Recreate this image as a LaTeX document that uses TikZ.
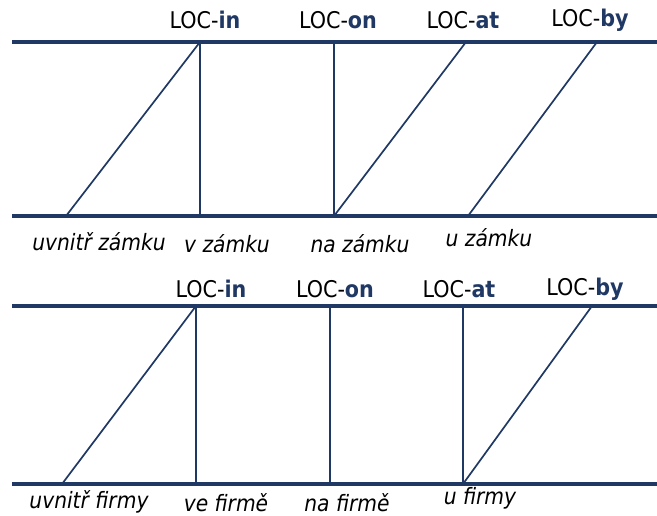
\documentclass[tikz,border=0pt]{standalone}
\usepackage{fontspec}
\setmainfont{DejaVu Sans Condensed}
\begin{document}
\begin{tikzpicture}[x=1pt,y=-1pt,
  rail/.style={draw=navy,line width=3.4pt},
  link/.style={draw=navy,line width=1.7pt},
  loc/.style={font=\fontsize{23}{26}\selectfont,inner sep=0pt},
  form/.style={font=\fontsize{22.5}{26}\selectfont\itshape,inner sep=0pt}]
\definecolor{navy}{HTML}{203864}
\newcommand{\locl}[1]{LOC-\textbf{\textcolor{navy}{#1}}}
\useasboundingbox (0,0) rectangle (657,515);

% ---- upper panel: zámek ----
\coordinate (aTL) at (12,42);  \coordinate (aTR) at (657,42);
\coordinate (aBL) at (12,216); \coordinate (aBR) at (657,216);
\draw[rail] (aTL) -- (aTR);
\draw[rail] (aBL) -- (aBR);
\node[loc] (ain) at (205,20) {\locl{in}};
\node[loc] (aon) at (338,20) {\locl{on}};
\node[loc] (aat) at (463,20) {\locl{at}};
\node[loc] (aby) at (590,20) {\locl{by}};
\coordinate (a1t) at (200,42); \coordinate (a1b) at (66,216);
\coordinate (a2t) at (200,42); \coordinate (a2b) at (200,216);
\coordinate (a3t) at (334,42); \coordinate (a3b) at (334,216);
\coordinate (a4t) at (466,42); \coordinate (a4b) at (334,216);
\coordinate (a5t) at (597,42); \coordinate (a5b) at (468,216);
\draw[link] (a1b) -- (a1t);
\draw[link] (a2b) -- (a2t);
\draw[link] (a3b) -- (a3t);
\draw[link] (a4b) -- (a4t);
\draw[link] (a5b) -- (a5t);
\node[form] (af1) at (99,242) {uvnitř zámku};
\node[form] (af2) at (227,244) {v zámku};
\node[form] (af3) at (360,244) {na zámku};
\node[form] (af4) at (489,238) {u zámku};

% ---- lower panel: firma ----
\coordinate (bTL) at (12,306);  \coordinate (bTR) at (657,306);
\coordinate (bBL) at (12,484);  \coordinate (bBR) at (657,484);
\draw[rail] (bTL) -- (bTR);
\draw[rail] (bBL) -- (bBR);
\node[loc] (bin) at (211,289) {\locl{in}};
\node[loc] (bon) at (335,289) {\locl{on}};
\node[loc] (bat) at (459,289) {\locl{at}};
\node[loc] (bby) at (585,289) {\locl{by}};
\coordinate (b1t) at (196,306); \coordinate (b1b) at (62,484);
\coordinate (b2t) at (196,306); \coordinate (b2b) at (196,484);
\coordinate (b3t) at (330,306); \coordinate (b3b) at (330,484);
\coordinate (b4t) at (463,306); \coordinate (b4b) at (463,484);
\coordinate (b5t) at (592,306); \coordinate (b5b) at (463,484);
\draw[link] (b1b) -- (b1t);
\draw[link] (b2b) -- (b2t);
\draw[link] (b3b) -- (b3t);
\draw[link] (b4b) -- (b4t);
\draw[link] (b5b) -- (b5t);
\node[form] (bf1) at (89,502) {uvnitř firmy};
\node[form] (bf2) at (226,503) {ve firmě};
\node[form] (bf3) at (347,503) {na firmě};
\node[form] (bf4) at (480,498) {u firmy};
\end{tikzpicture}
\end{document}
